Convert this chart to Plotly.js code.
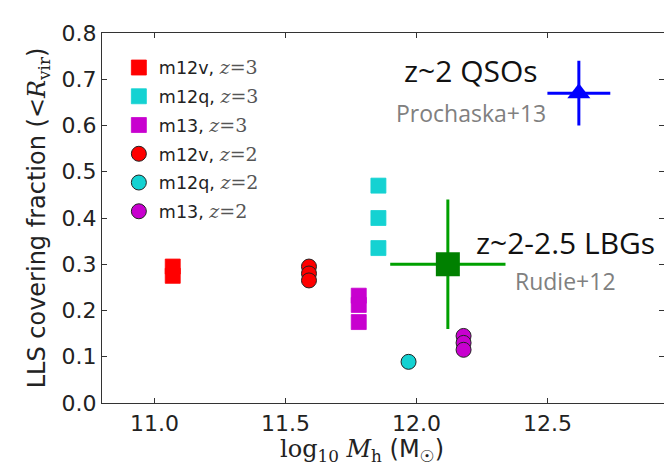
<!DOCTYPE html>
<html>
<head>
<meta charset="utf-8">
<script src="https://cdn.plot.ly/plotly-3.0.1.min.js"></script>
<style>html,body{margin:0;padding:0;background:#fff;}#plot{width:664px;height:468px;}</style>
</head>
<body>
<div id="plot"></div>
<script>
// ---- data ----
const m12v_z3_x = [11.07, 11.07];
const m12v_z3_y = [0.295, 0.275];
const m12q_z3_x = [11.855, 11.855, 11.855];
const m12q_z3_y = [0.47, 0.40, 0.335];
const m13_z3_x = [11.78, 11.78, 11.78];
const m13_z3_y = [0.232, 0.212, 0.175];
const m12v_z2_x = [11.59, 11.59, 11.59];
const m12v_z2_y = [0.295, 0.28, 0.265];
const m12q_z2_x = [11.97];
const m12q_z2_y = [0.089];
const m13_z2_x = [12.18, 12.18, 12.18];
const m13_z2_y = [0.145, 0.13, 0.115];
const lbg_x = [12.12], lbg_y = [0.30], lbg_xerr = [0.22], lbg_yerr = [0.14];
const qso_x = [12.62], qso_y = [0.67], qso_xerr = [0.12], qso_yerr = [0.07];
const seriesNames = ['m12v, ', 'm12q, ', 'm13, ', 'm12v, ', 'm12q, ', 'm13, '];
const seriesZ = ['3', '3', '3', '2', '2', '2'];
const xTicks = [11.0, 11.5, 12.0, 12.5];
const yTicks = [0.0, 0.1, 0.2, 0.3, 0.4, 0.5, 0.6, 0.7, 0.8];

const RED = '#ff0000', CYAN = '#14d2d2', MAG = '#c800cf';
function lbl(i) {
  return seriesNames[i] + '<span style="font-family:\'DejaVu Serif\';font-style:italic;font-size:19px;fill:#555">z</span>' +
         '<span style="font-family:\'DejaVu Serif\';font-size:19px;fill:#555">=' + seriesZ[i] + '</span>';
}
function sq(x, y, c, i) {
  return {x: x, y: y, type: 'scatter', mode: 'markers', name: lbl(i), legendgroup: 'g' + i,
    marker: {symbol: 'square', size: 15, color: c, line: {color: c, width: 0.8}}};
}
function ci(x, y, c, i) {
  return {x: x, y: y, type: 'scatter', mode: 'markers', name: lbl(i), legendgroup: 'g' + i,
    marker: {symbol: 'circle', size: 15, color: c, line: {color: '#222', width: 1}}};
}
const traces = [
  sq(m12v_z3_x, m12v_z3_y, RED, 0),
  sq(m12q_z3_x, m12q_z3_y, CYAN, 1),
  sq(m13_z3_x, m13_z3_y, MAG, 2),
  ci(m12v_z2_x, m12v_z2_y, RED, 3),
  ci(m12q_z2_x, m12q_z2_y, CYAN, 4),
  ci(m13_z2_x, m13_z2_y, MAG, 5),
  {x: lbg_x, y: lbg_y, type: 'scatter', mode: 'markers', showlegend: false,
   marker: {symbol: 'square', size: 24, color: '#008000'},
   error_x: {type: 'data', array: lbg_xerr, width: 0, thickness: 3, color: '#00a000'},
   error_y: {type: 'data', array: lbg_yerr, width: 0, thickness: 3, color: '#00a000'}},
  {x: qso_x, y: qso_y, type: 'scatter', mode: 'markers', showlegend: false,
   marker: {symbol: 'triangle-up', size: 20, color: '#0000ff'},
   error_x: {type: 'data', array: qso_xerr, width: 0, thickness: 3, color: '#0000ff'},
   error_y: {type: 'data', array: qso_yerr, width: 0, thickness: 3, color: '#0000ff'}}
];
const annFont = '"Open Sans", Lato, sans-serif';
const layout = {
  width: 664, height: 468,
  margin: {l: 102, r: 0, t: 33, b: 65},
  paper_bgcolor: '#fff', plot_bgcolor: '#fff',
  showlegend: true,
  legend: {x: 0.03, y: 0.955, xanchor: 'left', yanchor: 'top', bgcolor: 'rgba(0,0,0,0)',
           font: {family: 'DejaVu Sans', size: 17.5, color: '#222'}, tracegroupgap: 3, itemsizing: 'trace'},
  xaxis: {range: [10.8, 12.945], tickvals: xTicks, ticktext: xTicks.map(v => v.toFixed(1)),
          ticks: 'inside', ticklen: 5, tickcolor: '#333', showline: true, linecolor: '#333', linewidth: 1.2,
          mirror: 'ticks', showgrid: false, zeroline: false,
          tickfont: {family: 'DejaVu Sans', size: 22, color: '#222'}},
  yaxis: {range: [0, 0.8], tickvals: yTicks, ticktext: yTicks.map(v => v.toFixed(1)),
          ticks: 'inside', ticklen: 5, tickcolor: '#333', showline: true, linecolor: '#333', linewidth: 1.2,
          mirror: 'ticks', showgrid: false, zeroline: false,
          tickfont: {family: 'DejaVu Sans', size: 22, color: '#222'},
          title: {text: 'LLS covering fraction (<span style="font-family:\'DejaVu Serif\'">&lt;<i>R</i><sub>vir</sub></span>)',
                  font: {family: 'DejaVu Sans', size: 24, color: '#222'}, standoff: 9}},
  annotations: [
    {x: 0.4626, y: -0.128, xref: 'paper', yref: 'paper', xanchor: 'center', yanchor: 'middle', showarrow: false,
     text: '<span style="font-family:\'DejaVu Serif\'">log<sub>10</sub> <i>M</i><sub>h</sub></span> (M<sub>☉</sub>)',
     font: {family: 'DejaVu Sans', size: 24, color: '#222'}},
    {x: 11.946, y: 0.718, xref: 'x', yref: 'y', xanchor: 'left', yanchor: 'middle', showarrow: false,
     text: 'z~2 QSOs', font: {family: annFont, size: 30, color: '#111'}},
    {x: 11.914, y: 0.627, xref: 'x', yref: 'y', xanchor: 'left', yanchor: 'middle', showarrow: false,
     text: 'Prochaska+13', font: {family: annFont, size: 23, color: '#808080'}},
    {x: 12.218, y: 0.348, xref: 'x', yref: 'y', xanchor: 'left', yanchor: 'middle', showarrow: false,
     text: 'z~2-2.5 LBGs', font: {family: annFont, size: 30, color: '#111'}},
    {x: 12.367, y: 0.264, xref: 'x', yref: 'y', xanchor: 'left', yanchor: 'middle', showarrow: false,
     text: 'Rudie+12', font: {family: annFont, size: 23, color: '#808080'}}
  ]
};
Plotly.newPlot('plot', traces, layout, {staticPlot: true, displayModeBar: false});
</script>
</body>
</html>
